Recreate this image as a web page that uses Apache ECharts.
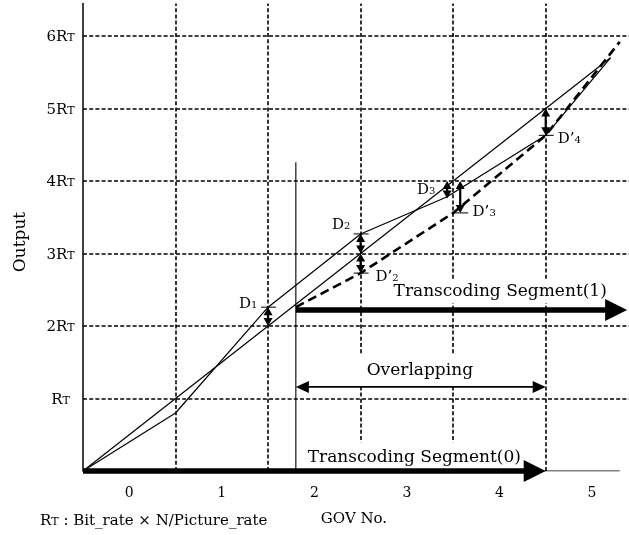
<!DOCTYPE html>
<html>
<head>
<meta charset="utf-8">
<script src="https://cdn.jsdelivr.net/npm/echarts@6/dist/echarts.min.js"></script>
<style>
html,body{margin:0;padding:0;background:#fff;}
#chart{width:629px;height:535px;}
</style>
</head>
<body>
<div id="chart"></div>
<script>
// ---------- data ----------
const xTickValues = [0, 1, 2, 3, 4, 5];            // GOV numbers
const yTickValues = [1, 2, 3, 4, 5, 6];            // multiples of RT
const yTickPrefix = ['', '2', '3', '4', '5', '6'];  // label prefix before "RT"
const gopBoundaries = [0.5, 1.5, 2.5, 3.5, 4.5];   // vertical dashed lines
const xRange = [-0.5, 5.4];
const yRange = [0, 6.45];

// target (constant bit-rate) line
const targetLine = [[-0.5, 0], [5.2, 5.7]];
// output of transcoding segment (0)
const segment0Output = [[-0.5, 0], [0.5, 0.8], [1.5, 2.26], [2.5, 3.27], [3.43, 3.78], [4.5, 4.63], [5.2, 5.7]];
// output of transcoding segment (1) (dashed)
const segment1Output = [[1.8, 2.26], [2.5, 2.73], [3.5, 3.56], [4.5, 4.63], [5.3, 5.92]];
// start marker of segment (1)
const segment1StartLine = [[1.8, 0], [1.8, 4.26]];
// thin x axis
const xAxisLine = [[-0.5, 0], [5.3, 0]];

// thick arrows: [x1, y1, x2, y2]
const segmentArrows = [[-0.5, 0, 4.5, 0], [1.8, 2.22, 5.38, 2.22]];
// overlapping double arrow
const overlapArrow = [[1.8, 1.16, 4.5, 1.16]];
// difference arrows D1..D'4 : [x, yFrom, x, yTo]
const diffArrows = [
  [1.5, 2.0, 1.5, 2.26],
  [2.5, 3.0, 2.5, 3.27],
  [2.5, 3.0, 2.5, 2.73],
  [3.435, 4.0, 3.435, 3.76],
  [3.576, 4.0, 3.576, 3.56],
  [4.5, 5.0, 4.5, 4.63]
];
// small end ticks of the difference arrows
const diffTicks = [[1.5, 2.26], [2.5, 3.27], [2.5, 2.73], [3.576, 3.56], [4.5, 4.63]];
// difference labels
const diffNames = ['D', 'D', 'D’', 'D', 'D’', 'D’'];
const diffIndex = ['1', '2', '2', '3', '3', '4'];
const diffLabelPos = [[1.284, 2.317], [2.289, 3.407], [2.786, 2.69], [3.208, 3.89], [3.835, 3.586], [4.754, 4.593]];
// segment labels
const segmentTexts = ['Transcoding Segment(1)', 'Overlapping', 'Transcoding Segment(0)'];
const segmentTextPos = [[4.008, 2.47], [3.14, 1.39], [3.08, 0.19]];

// ---------- rendering ----------
const FONT = '"DejaVu Serif", "Liberation Serif", serif';
const chart = echarts.init(document.getElementById('chart'), null, {renderer: 'canvas'});

function arrowRenderer(lineWidth, headLen, headHalf, startHead, endHead) {
  return function (params, api) {
    const p1 = api.coord([api.value(0), api.value(1)]);
    const p2 = api.coord([api.value(2), api.value(3)]);
    const dx = p2[0] - p1[0], dy = p2[1] - p1[1];
    const L = Math.hypot(dx, dy) || 1;
    const ux = dx / L, uy = dy / L, px = -uy, py = ux;
    const children = [];
    let s = p1, e = p2;
    function head(tip, dir) {
      const bx = tip[0] - dir[0] * headLen, by = tip[1] - dir[1] * headLen;
      children.push({
        type: 'polygon',
        shape: {points: [tip, [bx + px * headHalf, by + py * headHalf], [bx - px * headHalf, by - py * headHalf]]},
        style: {fill: '#000'}
      });
    }
    if (startHead) { head(p1, [-ux, -uy]); s = [p1[0] + ux * headLen * 0.8, p1[1] + uy * headLen * 0.8]; }
    if (endHead) { head(p2, [ux, uy]); e = [p2[0] - ux * headLen * 0.8, p2[1] - uy * headLen * 0.8]; }
    children.unshift({
      type: 'line',
      shape: {x1: s[0], y1: s[1], x2: e[0], y2: e[1]},
      style: {stroke: '#000', lineWidth: lineWidth}
    });
    return {type: 'group', children: children};
  };
}

const gridLineData = gopBoundaries.map(x => ({coords: [[x, yRange[0]], [x, yRange[1]]]}))
  .concat(yTickValues.map(y => ({coords: [[xRange[0], y], [xRange[1], y]]})));

const option = {
  animation: false,
  backgroundColor: '#fff',
  grid: {left: 83, right: 0, top: 3.4, bottom: 64, containLabel: false},
  xAxis: {
    type: 'value', min: xRange[0], max: xRange[1], interval: 0.5,
    axisLine: {show: false}, axisTick: {show: false}, splitLine: {show: false},
    axisLabel: {
      margin: 14, color: '#000', fontFamily: FONT, fontSize: 14, lineHeight: 16,
      showMaxLabel: false, showMinLabel: false,
      formatter: v => (xTickValues.indexOf(v) >= 0 ? String(v) : '')
    }
  },
  yAxis: {
    type: 'value', min: yRange[0], max: yRange[1], interval: 1,
    axisLine: {show: true, onZero: false, lineStyle: {color: '#000', width: 1.5}},
    axisTick: {show: false}, splitLine: {show: false},
    axisLabel: {
      margin: 22.5, align: 'center', color: '#000', showMaxLabel: false,
      formatter: v => {
        const i = yTickValues.indexOf(v);
        if (i < 0) return '';
        return '{a|' + yTickPrefix[i] + 'R}{t|T}';
      },
      rich: {
        a: {fontFamily: FONT, fontSize: 15, color: '#000', verticalAlign: 'bottom', lineHeight: 18},
        t: {fontFamily: FONT, fontSize: 11, color: '#000', verticalAlign: 'bottom', lineHeight: 18, padding: [0, 0, 1, 0]}
      }
    }
  },
  graphic: [
    {type: 'text', x: 21, y: 242, rotation: Math.PI / 2, silent: true,
      style: {text: 'Output', fontSize: 17, fontFamily: FONT, fill: '#000', align: 'center', verticalAlign: 'middle'}},
    {type: 'text', x: 354, y: 519, silent: true,
      style: {text: 'GOV No.', fontSize: 15, fontFamily: FONT, fill: '#000', align: 'center', verticalAlign: 'middle'}},
    {type: 'text', x: 40, y: 520, silent: true,
      style: {
        text: '{r|R}{t|T}{n| : Bit_rate × N/Picture_rate}',
        align: 'left', verticalAlign: 'middle',
        rich: {
          r: {fontFamily: FONT, fontSize: 15, fill: '#000', verticalAlign: 'bottom', lineHeight: 18},
          t: {fontFamily: FONT, fontSize: 11, fill: '#000', verticalAlign: 'bottom', lineHeight: 18, padding: [0, 0, 1, 0]},
          n: {fontFamily: FONT, fontSize: 15, fill: '#000', verticalAlign: 'bottom', lineHeight: 18}
        }
      }}
  ],
  series: [
    { // grid lines
      type: 'lines', coordinateSystem: 'cartesian2d', silent: true, z: 1,
      lineStyle: {color: '#000', width: 1.6, type: [4, 2.2], opacity: 1},
      data: gridLineData
    },
    {type: 'line', data: xAxisLine, symbol: 'none', silent: true, z: 2,
      lineStyle: {color: '#000', width: 1.2}},
    {type: 'line', data: segment1StartLine, symbol: 'none', silent: true, z: 2,
      lineStyle: {color: '#000', width: 1.1}},
    {type: 'line', data: targetLine, symbol: 'none', silent: true, z: 3,
      lineStyle: {color: '#000', width: 1.2}},
    {type: 'line', data: segment0Output, symbol: 'none', silent: true, z: 3,
      lineStyle: {color: '#000', width: 1.2}},
    {type: 'line', data: segment1Output, symbol: 'none', silent: true, z: 3,
      lineStyle: {color: '#000', width: 2.6, type: [9, 5]}},
    { // segment labels with white boxes
      type: 'custom', silent: true, z: 4, clip: false,
      data: segmentTextPos,
      renderItem: (params, api) => {
        const p = api.coord([api.value(0), api.value(1)]);
        const pads = [[2, 6, 3, 6], [8, 8, 6, 8], [10, 8, 3, 8]];
        return {
          type: 'text', x: p[0], y: p[1],
          style: {
            text: segmentTexts[params.dataIndex], font: '17px ' + FONT, fill: '#000',
            align: 'center', verticalAlign: 'middle',
            backgroundColor: '#fff', padding: pads[params.dataIndex]
          }
        };
      }
    },
    {type: 'custom', silent: true, z: 5, clip: false, data: segmentArrows,
      renderItem: arrowRenderer(5.5, 22, 11, false, true)},
    {type: 'custom', silent: true, z: 5, clip: false, data: overlapArrow,
      renderItem: arrowRenderer(1.6, 13, 6, true, true)},
    {type: 'custom', silent: true, z: 5, clip: false, data: diffArrows,
      renderItem: arrowRenderer(2.2, 8, 4.5, true, true)},
    { // end ticks of D arrows
      type: 'custom', silent: true, z: 5, clip: false, data: diffTicks,
      renderItem: (params, api) => {
        const p = api.coord([api.value(0), api.value(1)]);
        return {type: 'line', shape: {x1: p[0] - 7, y1: p[1], x2: p[0] + 8, y2: p[1]},
          style: {stroke: '#000', lineWidth: 1}};
      }
    },
    { // D labels
      type: 'custom', silent: true, z: 6, clip: false, data: diffLabelPos,
      renderItem: (params, api) => {
        const p = api.coord([api.value(0), api.value(1)]);
        const i = params.dataIndex;
        return {
          type: 'text', x: p[0], y: p[1],
          style: {
            text: '{d|' + diffNames[i] + '}{s|' + diffIndex[i] + '}',
            align: 'center', verticalAlign: 'middle',
            rich: {
              d: {fontFamily: FONT, fontSize: 15, fill: '#000', verticalAlign: 'bottom', lineHeight: 17},
              s: {fontFamily: FONT, fontSize: 10, fill: '#000', verticalAlign: 'bottom', lineHeight: 17, padding: [0, 0, 1, 0]}
            }
          }
        };
      }
    }
  ]
};
chart.setOption(option);
</script>
</body>
</html>
